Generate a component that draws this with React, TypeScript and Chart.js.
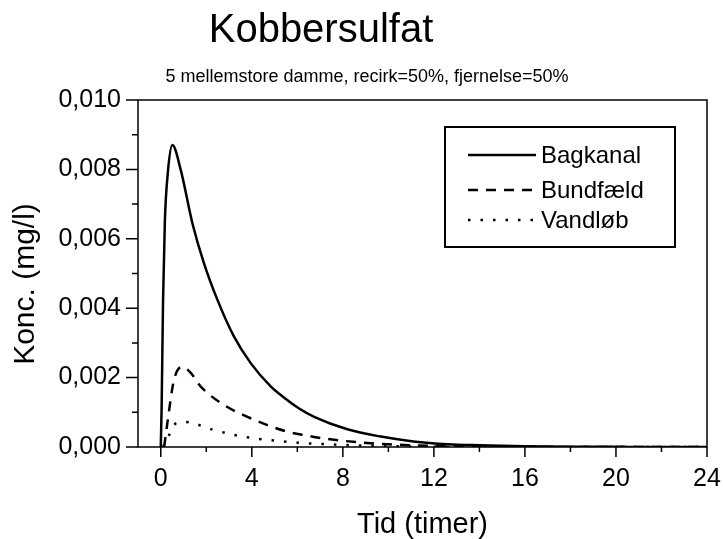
import React, { useEffect, useRef } from 'react';
import { Chart, registerables } from 'chart.js';

Chart.register(...registerables);

const titleText = 'Kobbersulfat';
const subtitleText = '5 mellemstore damme, recirk=50%, fjernelse=50%';
const xTitleText = 'Tid (timer)';
const yTitleText = 'Konc. (mg/l)';
const seriesNames = ['Bagkanal', 'Bundfæld', 'Vandløb'];

const bagTime = [0, 0.04, 0.1, 0.18, 0.31, 0.51, 0.88, 1.39, 1.9, 2.49, 3.22, 3.96, 4.84, 5.27, 6.08, 6.74, 8.2, 9.67, 11.1, 12.6, 14, 16, 18, 20, 22, 24];
const bagConc = [0, 0.0012, 0.0042, 0.0065, 0.0079, 0.0087, 0.00798, 0.00645, 0.00529, 0.00424, 0.00318, 0.00241, 0.00174, 0.0015, 0.00111, 0.00087, 0.00051, 0.0003, 0.00016, 0.00008, 0.00005, 0.000025, 0.00001, 0.000005, 0, 0];

const bundTime = [0.15, 0.29, 0.58, 0.95, 1.3, 1.76, 2.78, 3.81, 4.69, 5.57, 6.3, 7.33, 9.2, 11, 13, 16, 20, 24];
const bundConc = [0, 0.00069, 0.00193, 0.00231, 0.00215, 0.00174, 0.00121, 0.00087, 0.00063, 0.00044, 0.00034, 0.00023, 0.00011, 0.00005, 0.00002, 0.000005, 0, 0];

const vandTime = [0.1, 0.37, 0.66, 1.0, 1.25, 2.34, 3.37, 4.47, 5.57, 6.08, 7, 8, 10, 12, 16, 24];
const vandConc = [0, 0.00035, 0.00068, 0.00072, 0.00071, 0.00049, 0.00033, 0.00022, 0.00015, 0.00012, 0.00009, 0.00006, 0.000025, 0.00001, 0, 0];

const xMajorTicks = [0, 4, 8, 12, 16, 20, 24];
const xMinorTicks = [2, 6, 10, 14, 18, 22];
const yMajorTicks = [0, 0.002, 0.004, 0.006, 0.008, 0.01];
const yMinorTicks = [0.001, 0.003, 0.005, 0.007, 0.009];

const FONT = '"Liberation Sans", Arial, Helvetica, sans-serif';
const dashes = [[], [10, 8], [2.5, 10]];

const toPoints = (xs: number[], ys: number[]) => xs.map((x, i) => ({ x, y: ys[i] }));

const decorPlugin = {
  id: 'decor',
  afterDraw(chart: any) {
    const { ctx, chartArea: ca, scales } = chart;
    const xs = scales.x;
    const ys = scales.y;
    ctx.save();
    ctx.strokeStyle = '#000';
    ctx.fillStyle = '#000';
    ctx.lineWidth = 1.5;
    ctx.setLineDash([]);
    ctx.beginPath();
    ctx.rect(ca.left, ca.top, ca.right - ca.left, ca.bottom - ca.top);
    ctx.stroke();
    ctx.beginPath();
    xMajorTicks.forEach((v) => {
      const p = xs.getPixelForValue(v);
      ctx.moveTo(p, ca.bottom);
      ctx.lineTo(p, ca.bottom + 10);
    });
    xMinorTicks.forEach((v) => {
      const p = xs.getPixelForValue(v);
      ctx.moveTo(p, ca.bottom);
      ctx.lineTo(p, ca.bottom + 5);
    });
    yMajorTicks.forEach((v) => {
      const p = ys.getPixelForValue(v);
      ctx.moveTo(ca.left, p);
      ctx.lineTo(ca.left - 12, p);
    });
    yMinorTicks.forEach((v) => {
      const p = ys.getPixelForValue(v);
      ctx.moveTo(ca.left, p);
      ctx.lineTo(ca.left - 6, p);
    });
    ctx.stroke();

    // titles
    ctx.textAlign = 'center';
    ctx.textBaseline = 'alphabetic';
    ctx.font = `40px ${FONT}`;
    ctx.fillText(titleText, 321, 42);
    ctx.font = `18px ${FONT}`;
    ctx.fillText(subtitleText, 367, 82);
    ctx.font = `29px ${FONT}`;
    ctx.fillText(xTitleText, (ca.left + ca.right) / 2, 533);
    ctx.save();
    ctx.translate(34, 284);
    ctx.rotate(-Math.PI / 2);
    ctx.font = `30px ${FONT}`;
    ctx.fillText(yTitleText, 0, 0);
    ctx.restore();

    // legend
    ctx.lineWidth = 2;
    ctx.strokeRect(445, 127, 230, 120);
    const rowY = [155, 190, 220];
    ctx.font = `24px ${FONT}`;
    ctx.textAlign = 'left';
    ctx.textBaseline = 'middle';
    seriesNames.forEach((name, i) => {
      ctx.lineWidth = 2.5;
      ctx.setLineDash(dashes[i]);
      ctx.beginPath();
      ctx.moveTo(468, rowY[i]);
      ctx.lineTo(536, rowY[i]);
      ctx.stroke();
      ctx.setLineDash([]);
      ctx.fillText(name, 541, rowY[i] + 1);
    });
    ctx.restore();
  },
};

export default function App() {
  const canvasRef = useRef<HTMLCanvasElement | null>(null);

  useEffect(() => {
    if (!canvasRef.current) return;
    Chart.defaults.font.family = FONT;
    Chart.defaults.color = '#000';
    const seriesData = [
      toPoints(bagTime, bagConc),
      toPoints(bundTime, bundConc),
      toPoints(vandTime, vandConc),
    ];
    const chart = new Chart(canvasRef.current, {
      type: 'line',
      data: {
        datasets: seriesNames.map((name, i) => ({
          label: name,
          data: seriesData[i],
          borderColor: '#000',
          backgroundColor: '#000',
          borderWidth: 2.5,
          borderDash: dashes[i],
          pointRadius: 0,
          fill: false,
          cubicInterpolationMode: 'monotone' as const,
        })),
      },
      options: {
        animation: false,
        responsive: false,
        devicePixelRatio: 1,
        layout: { autoPadding: false, padding: { top: 100, right: 16, left: 0, bottom: 0 } },
        plugins: {
          legend: { display: false },
          tooltip: { enabled: false },
          title: { display: false },
        },
        scales: {
          x: {
            type: 'linear',
            min: -1,
            max: 24,
            grid: { display: false, drawTicks: false },
            border: { display: false },
            ticks: {
              padding: 17,
              autoSkip: false,
              maxRotation: 0,
              font: { size: 25, family: FONT },
              color: '#000',
              callback: (v: any) => String(v),
            },
            afterBuildTicks: (s: any) => {
              s.ticks = xMajorTicks.map((v) => ({ value: v }));
            },
            afterFit: (s: any) => {
              s.height = 92;
              s.paddingLeft = 0;
              s.paddingRight = 0;
            },
          },
          y: {
            type: 'linear',
            min: 0,
            max: 0.01,
            grid: { display: false, drawTicks: false },
            border: { display: false },
            ticks: {
              padding: 17,
              autoSkip: false,
              font: { size: 25, family: FONT },
              color: '#000',
              callback: (v: any) => Number(v).toFixed(3).replace('.', ','),
            },
            afterBuildTicks: (s: any) => {
              s.ticks = yMajorTicks.map((v) => ({ value: v }));
            },
            afterFit: (s: any) => {
              s.width = 138;
              s.paddingTop = 0;
              s.paddingBottom = 0;
            },
          },
        },
      },
      plugins: [decorPlugin],
    });
    return () => chart.destroy();
  }, []);

  return (
    <div style={{ position: 'fixed', left: 0, top: 0, width: 723, height: 539, background: '#fff' }}>
      <canvas ref={canvasRef} width={723} height={539} />
    </div>
  );
}
